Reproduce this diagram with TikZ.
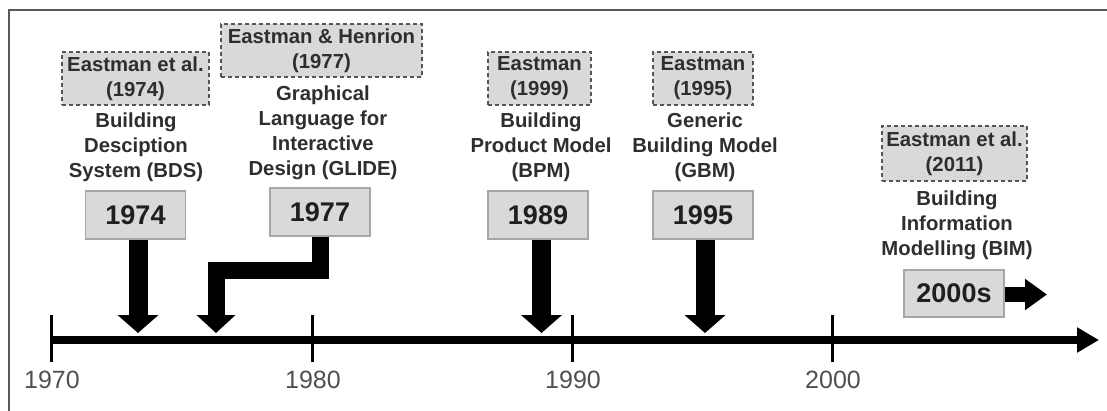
\documentclass[tikz,border=0pt]{standalone}
\usepackage{fontspec}
\setmainfont{Liberation Sans}
\usetikzlibrary{arrows.meta}
\definecolor{boxgray}{HTML}{D9D9D9}
\definecolor{bordergray}{HTML}{A6A6A6}
\definecolor{dashgray}{HTML}{555555}
\definecolor{textgray}{HTML}{2E2E2E}
\definecolor{axisgray}{HTML}{505050}
\tikzset{
  yearbox/.style={fill=boxgray, draw=bordergray, line width=1.2pt, minimum width=100pt, minimum height=48pt, inner sep=0pt, font=\bfseries\fontsize{27}{30}\selectfont, text=black!88},
  refbox/.style={fill=boxgray, draw=dashgray, line width=1.6pt, dash pattern=on 4pt off 3pt, inner sep=0pt, align=center, font=\bfseries\fontsize{20.3}{25}\selectfont, text=textgray},
  desc/.style={align=center, inner sep=0pt, font=\bfseries\fontsize{20.3}{25}\selectfont, text=textgray},
  yearlabel/.style={inner sep=0pt, font=\fontsize{25}{30}\selectfont, text=axisgray},
  tick/.style={line width=3pt, draw=black},
  bigarrow/.style={line width=19pt, draw=black, -{Triangle[width=40pt,length=18pt]}},
  elbowarrow/.style={line width=17pt, draw=black, miter limit=10, -{Triangle[width=38pt,length=18pt]}},
  smallarrow/.style={line width=15pt, draw=black, -{Triangle[width=30pt,length=22pt]}},
  axisarrow/.style={line width=8pt, draw=black, -{Triangle[width=24pt,length=22pt]}}
}
\begin{document}
\begin{tikzpicture}[x=1pt,y=-1pt]
\useasboundingbox (0,0) rectangle (1107,410);
% frame
\draw[line width=2.5pt, draw=black!65] (9,412) -- (9,10) -- (1110,10);

% axis
\coordinate (a0) at (51,340);
\coordinate (aend) at (1099,340);
\draw[axisarrow] (a0) -- (aend);

% ticks and year labels
\foreach \yr/\xx in {1970/51,1980/312,1990/572,2000/832}{
  \coordinate (tk\yr) at (\xx,315);
  \coordinate (tb\yr) at (\xx,362);
  \draw[tick] (tk\yr) -- (tb\yr);
  \node[yearlabel] (lab\yr) at (\xx+1,380) {\yr};
}

% reference boxes
\node[refbox, minimum width=147pt, minimum height=53pt] (r1) at (135.5,78.5) {Eastman et al.\\(1974)};
\node[refbox, minimum width=201pt, minimum height=53pt] (r2) at (321.5,50.5) {Eastman \& Henrion\\(1977)};
\node[refbox, minimum width=103pt, minimum height=53pt] (r3) at (539.5,78.5) {Eastman\\(1999)};
\node[refbox, minimum width=100pt, minimum height=53pt] (r4) at (703,78.5) {Eastman\\(1995)};
\node[refbox, minimum width=145pt, minimum height=55pt] (r5) at (954.5,153.5) {Eastman et al.\\(2011)};

% descriptions
\node[desc] (d1) at (136,147) {Building\\Desciption\\System (BDS)};
\node[desc] (d2) at (323,132.5) {Graphical\\Language for\\Interactive\\Design (GLIDE)};
\node[desc] (d3) at (541,147) {Building\\Product Model\\(BPM)};
\node[desc] (d4) at (705,147) {Generic\\Building Model\\(GBM)};
\node[desc] (d5) at (957,225.5) {Building\\Information\\Modelling (BIM)};

% year boxes
\node[yearbox] (y1974) at (135.5,215) {1974};
\node[yearbox] (y1977) at (320,212) {1977};
\node[yearbox] (y1989) at (538,215) {1989};
\node[yearbox] (y1995) at (703,215) {1995};
\node[yearbox, minimum height=47pt] (y2000) at (954,293.5) {2000s};

% arrow targets
\coordinate (p1974) at (138,333);
\coordinate (p1977) at (216,333);
\coordinate (e1) at (320,270);
\coordinate (e2) at (216,270);
\coordinate (p1989) at (541.5,333);
\coordinate (p1995) at (705,333);
\coordinate (p2000) at (1047,294.5);

\draw[bigarrow] (p1974 |- y1974.south) -- (p1974);
\draw[elbowarrow] (y1977.south) -- (e1) -- (e2) -- (p1977);
\draw[bigarrow] (p1989 |- y1989.south) -- (p1989);
\draw[bigarrow] (p1995 |- y1995.south) -- (p1995);
\draw[smallarrow] (y2000.east |- p2000) -- (p2000);
\end{tikzpicture}
\end{document}
